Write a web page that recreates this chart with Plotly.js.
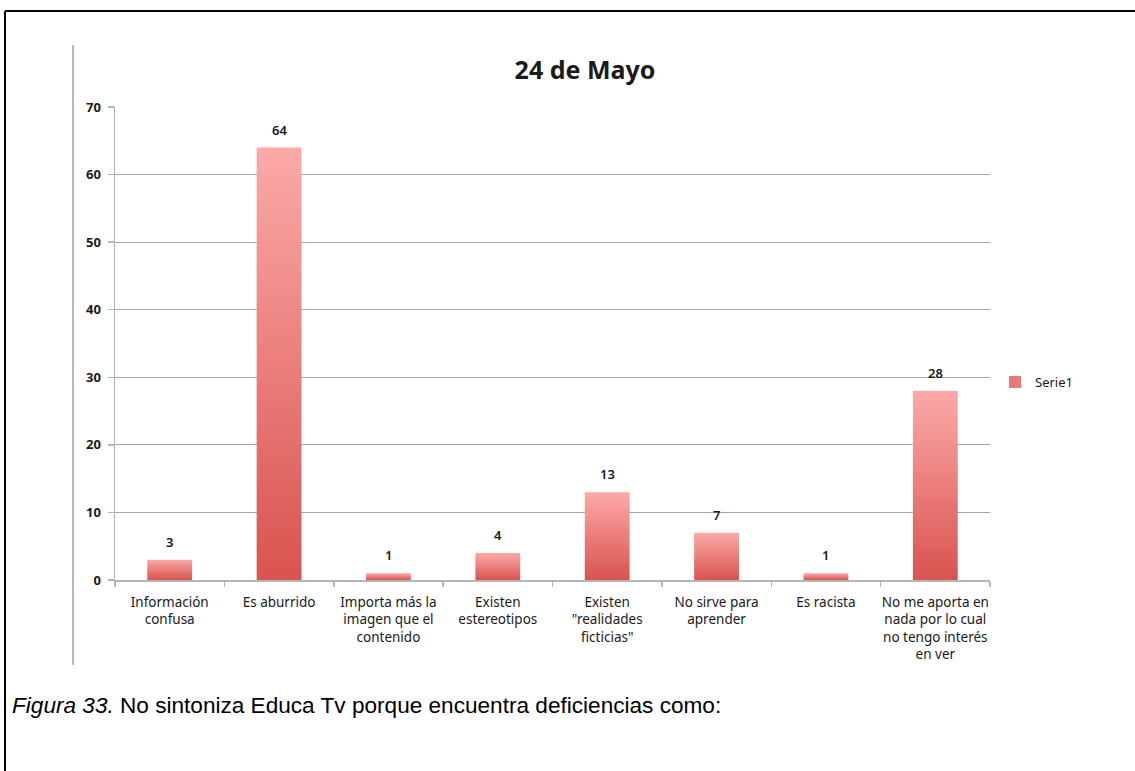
<!DOCTYPE html>
<html>
<head>
<meta charset="utf-8">
<script src="https://cdn.plot.ly/plotly-3.0.1.min.js"></script>
<style>
html,body{margin:0;padding:0;background:#fff;}
#chart{width:1135px;height:771px;}
</style>
</head>
<body>
<div id="chart"></div>
<script>
const categories = [
  "Información<br>confusa",
  "Es aburrido",
  "Importa más la<br>imagen que el<br>contenido",
  "Existen<br>estereotipos",
  "Existen<br>\"realidades<br>ficticias\"",
  "No sirve para<br>aprender",
  "Es racista",
  "No me aporta en<br>nada por lo cual<br>no tengo interés<br>en ver"
];
const values = [3, 64, 1, 4, 13, 7, 1, 28];
const seriesName = "Serie1";
const chartTitle = "24 de Mayo";
const yTicks = [0, 10, 20, 30, 40, 50, 60, 70];
const caption = "<i>Figura 33.</i> No sintoniza Educa Tv porque encuentra deficiencias como:";

const W = 1135, H = 771;
const L = 115, R = 990, T = 107, B = 580;
const px = v => (v - L) / (R - L);
const py = v => (B - v) / (B - T);

const labelFont = {family: "Noto Sans, Open Sans, sans-serif", size: 13.5, color: "#1a1a1a"};

const trace = {
  type: "bar",
  x: categories,
  y: values,
  name: seriesName,
  marker: {color: "#e77a77", line: {width: 0}},
  showlegend: true,
  hoverinfo: "none"
};

const annotations = categories.map((c, i) => ({
  x: c, y: values[i], xref: "x", yref: "y",
  text: String(values[i]), showarrow: false,
  yanchor: "bottom", yshift: 7,
  font: {family: "Noto Sans, sans-serif", size: 13, color: "#1a1a1a", weight: 600}
}));
annotations.push({
  xref: "paper", yref: "paper", x: px(10), y: py(705),
  xanchor: "left", yanchor: "middle", showarrow: false,
  text: caption,
  font: {family: "Liberation Sans, Arial, sans-serif", size: 22.6, color: "#000"}
});

const layout = {
  width: W, height: H,
  margin: {l: L, r: W - R, t: T, b: H - B, pad: 0},
  paper_bgcolor: "#fff", plot_bgcolor: "#fff",
  title: {
    text: "<b>" + chartTitle + "</b>",
    x: 585 / W, xref: "container", xanchor: "center",
    y: 1 - 70 / H, yref: "container", yanchor: "middle",
    font: {family: "Noto Sans, Open Sans, sans-serif", size: 25, color: "#1a1a1a"}
  },
  bargap: 0.59,
  xaxis: {
    type: "category",
    showline: true, linecolor: "#b5b5b5", linewidth: 1.5,
    ticks: "outside", tickson: "boundaries", ticklen: 5, tickcolor: "#b5b5b5", tickwidth: 1.5,
    ticklabelstandoff: 9, tickangle: 0,
    tickfont: labelFont, showgrid: false, zeroline: false, automargin: false
  },
  yaxis: {
    range: [0, 70], tickvals: yTicks, ticktext: yTicks.map(String),
    showline: true, linecolor: "#b5b5b5", linewidth: 1.5,
    ticks: "outside", ticklen: 6, tickcolor: "#b5b5b5", tickwidth: 1.5,
    ticklabelstandoff: 4,
    showgrid: true, gridcolor: "#a6a6a6", gridwidth: 1,
    zeroline: false,
    tickfont: {family: "Noto Sans, sans-serif", size: 13, color: "#1a1a1a", weight: "bold"},
    automargin: false
  },
  legend: {
    x: px(995), y: py(382), xanchor: "left", yanchor: "middle",
    font: {family: "Noto Sans, sans-serif", size: 13, color: "#1a1a1a"},
    itemwidth: 30, bgcolor: "rgba(0,0,0,0)"
  },
  annotations: annotations,
  shapes: [
    {type: "line", xref: "paper", yref: "paper", x0: px(73), x1: px(73), y0: py(45), y1: py(665),
     line: {color: "#a0a0a0", width: 1.5}},
    {type: "line", xref: "paper", yref: "paper", x0: px(5), x1: px(1136), y0: py(11), y1: py(11),
     line: {color: "#000", width: 2}},
    {type: "line", xref: "paper", yref: "paper", x0: px(5), x1: px(5), y0: py(11), y1: py(772),
     line: {color: "#000", width: 2}}
  ]
};

function applyGradient(gd) {
  const svg = gd.querySelector("svg.main-svg");
  if (!svg) return;
  let defs = svg.querySelector("defs");
  if (!defs) { defs = document.createElementNS("http://www.w3.org/2000/svg", "defs"); svg.insertBefore(defs, svg.firstChild); }
  if (!svg.querySelector("#barGrad")) {
    const g = document.createElementNS("http://www.w3.org/2000/svg", "linearGradient");
    g.setAttribute("id", "barGrad");
    g.setAttribute("x1", "0"); g.setAttribute("y1", "0");
    g.setAttribute("x2", "0"); g.setAttribute("y2", "1");
    [["0", "#fbaaa8"], ["1", "#d9534f"]].forEach(([o, c]) => {
      const s = document.createElementNS("http://www.w3.org/2000/svg", "stop");
      s.setAttribute("offset", o); s.setAttribute("stop-color", c);
      g.appendChild(s);
    });
    defs.appendChild(g);
  }
  gd.querySelectorAll(".barlayer .point path").forEach(p => { p.style.fill = "url(#barGrad)"; });
}

Plotly.newPlot("chart", [trace], layout, {displayModeBar: false, staticPlot: true}).then(gd => {
  applyGradient(gd);
});
</script>
</body>
</html>
